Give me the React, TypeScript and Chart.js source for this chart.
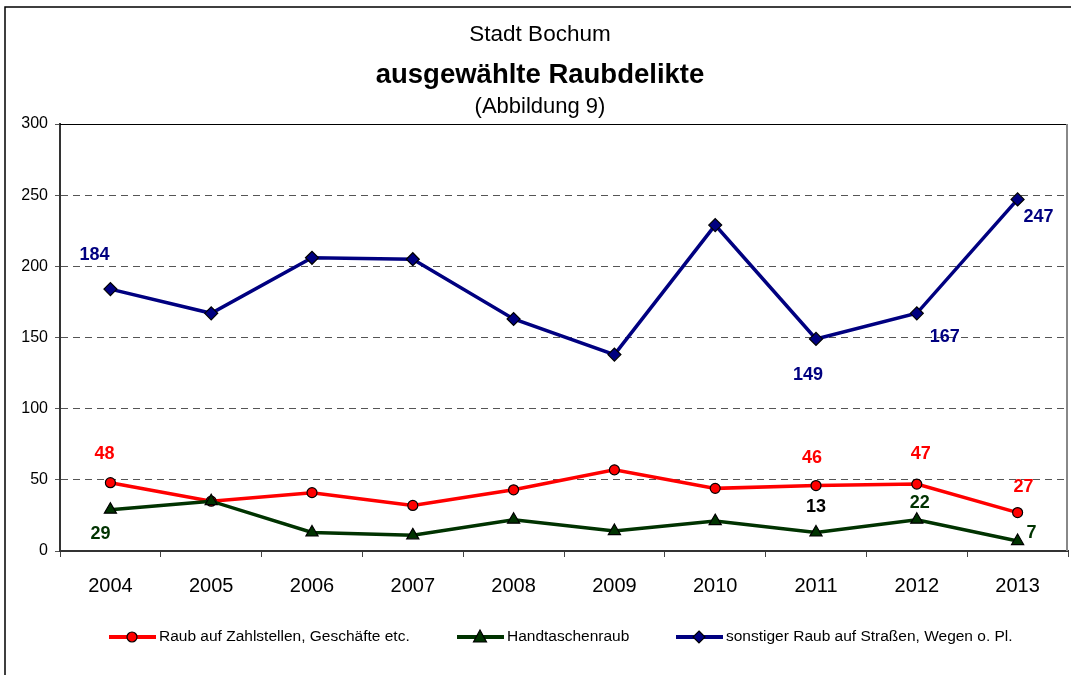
import React, { useEffect, useRef } from "react";
import { Chart, registerables } from "chart.js";

Chart.register(...registerables);

const years = ["2004", "2005", "2006", "2007", "2008", "2009", "2010", "2011", "2012", "2013"];
const raubZahlstellen = [48, 35, 41, 32, 43, 57, 44, 46, 47, 27];
const handtaschenraub = [29, 35, 13, 11, 22, 14, 21, 13, 22, 7];
const sonstigerRaub = [184, 167, 206, 205, 163, 138, 229, 149, 167, 247];
const yTickValues = [0, 50, 100, 150, 200, 250, 300];
const seriesNames = [
  "Raub auf Zahlstellen, Geschäfte etc.",
  "Handtaschenraub",
  "sonstiger Raub auf Straßen, Wegen o. Pl.",
];
const titleLines = ["Stadt Bochum", "ausgewählte Raubdelikte", "(Abbildung 9)"];

// which values get a data label: [dataset index, point index]
const labelledPoints = [
  [2, 0], [2, 7], [2, 8], [2, 9],
  [0, 0], [0, 7], [0, 8], [0, 9],
  [1, 0], [1, 7], [1, 8], [1, 9],
];

// styling / placement (not data)
const FONT = "'Liberation Sans', Arial, Helvetica, sans-serif";
const RED = "#FF0000";
const GREEN = "#003300";
const BLUE = "#000080";
const seriesColors = [RED, GREEN, BLUE];
const seriesMarkers = ["circle", "triangle", "rectRot"];
const labelOffsets: Record<string, [number, number, string]> = {
  "2-0": [-16, -34, BLUE],
  "2-7": [-8, 36, BLUE],
  "2-8": [28, 24, BLUE],
  "2-9": [21, 18, BLUE],
  "0-0": [-6, -29, RED],
  "0-7": [-4, -27, RED],
  "0-8": [4, -30, RED],
  "0-9": [6, -26, RED],
  "1-0": [-10, 24, GREEN],
  "1-7": [0, -25, "#000000"],
  "1-8": [3, -17, GREEN],
  "1-9": [14, -8, GREEN],
};
const legendX = [109, 457, 676];

const drawPlugin = {
  id: "customDraw",
  beforeDraw(chart: any) {
    const ctx = chart.ctx;
    ctx.save();
    ctx.fillStyle = "#ffffff";
    ctx.fillRect(0, 0, chart.width, chart.height);
    ctx.restore();
  },
  afterDraw(chart: any) {
    const ctx = chart.ctx;
    const area = chart.chartArea;
    ctx.save();
    // outer frame
    ctx.strokeStyle = "#000";
    ctx.lineWidth = 1.5;
    ctx.beginPath();
    ctx.moveTo(5, chart.height);
    ctx.lineTo(5, 7);
    ctx.lineTo(chart.width, 7);
    ctx.stroke();
    // plot border top & right
    ctx.lineWidth = 1;
    ctx.strokeStyle = "#000";
    ctx.beginPath();
    ctx.moveTo(area.left, area.top + 0.5);
    ctx.lineTo(area.right, area.top + 0.5);
    ctx.stroke();
    ctx.strokeStyle = "#888";
    ctx.lineWidth = 2;
    ctx.beginPath();
    ctx.moveTo(area.right - 1, area.top);
    ctx.lineTo(area.right - 1, area.bottom);
    ctx.stroke();

    // titles
    ctx.fillStyle = "#000";
    ctx.textAlign = "center";
    ctx.textBaseline = "middle";
    ctx.font = `22.5px ${FONT}`;
    ctx.fillText(titleLines[0], 540, 35);
    ctx.font = `bold 27.5px ${FONT}`;
    ctx.fillText(titleLines[1], 540, 75);
    ctx.font = `22px ${FONT}`;
    ctx.fillText(titleLines[2], 540, 107);

    // value labels
    ctx.font = `bold 18px ${FONT}`;
    labelledPoints.forEach(([ds, i]) => {
      const meta = chart.getDatasetMeta(ds);
      const pt = meta.data[i];
      const [dx, dy, color] = labelOffsets[`${ds}-${i}`];
      ctx.fillStyle = color;
      ctx.fillText(String(chart.data.datasets[ds].data[i]), pt.x + dx, pt.y + dy);
    });

    // legend
    const ly = 637;
    seriesNames.forEach((name, k) => {
      const x0 = legendX[k];
      ctx.strokeStyle = seriesColors[k];
      ctx.lineWidth = 4;
      ctx.beginPath();
      ctx.moveTo(x0, ly);
      ctx.lineTo(x0 + 47, ly);
      ctx.stroke();
      ctx.fillStyle = seriesColors[k];
      ctx.strokeStyle = "#000";
      ctx.lineWidth = 1.2;
      ctx.beginPath();
      const cx = x0 + 23;
      if (seriesMarkers[k] === "circle") {
        ctx.arc(cx, ly, 5, 0, Math.PI * 2);
      } else if (seriesMarkers[k] === "triangle") {
        ctx.moveTo(cx, ly - 7);
        ctx.lineTo(cx + 6.5, ly + 5);
        ctx.lineTo(cx - 6.5, ly + 5);
        ctx.closePath();
      } else {
        ctx.moveTo(cx, ly - 6);
        ctx.lineTo(cx + 6, ly);
        ctx.lineTo(cx, ly + 6);
        ctx.lineTo(cx - 6, ly);
        ctx.closePath();
      }
      ctx.fill();
      ctx.stroke();
      ctx.fillStyle = "#000";
      ctx.textAlign = "left";
      ctx.textBaseline = "middle";
      ctx.font = `15.5px ${FONT}`;
      ctx.fillText(name, x0 + 50, ly);
    });
    ctx.restore();
  },
};

export default function App() {
  const canvasRef = useRef<HTMLCanvasElement | null>(null);

  useEffect(() => {
    const canvas = canvasRef.current;
    if (!canvas) return;
    Chart.defaults.font.family = FONT;
    const seriesData = [raubZahlstellen, handtaschenraub, sonstigerRaub];
    const chart = new Chart(canvas, {
      type: "line",
      data: {
        labels: years,
        datasets: seriesData.map((d, k) => ({
          label: seriesNames[k],
          data: d,
          borderColor: seriesColors[k],
          backgroundColor: seriesColors[k],
          borderWidth: 3.5,
          tension: 0,
          pointStyle: seriesMarkers[k] as any,
          pointRadius: k === 0 ? 5 : k === 1 ? 7 : 6.5,
          pointBackgroundColor: seriesColors[k],
          pointBorderColor: "#000000",
          pointBorderWidth: 1.2,
          order: 3 - k,
        })),
      },
      options: {
        responsive: false,
        animation: false,
        events: [],
        layout: { autoPadding: false, padding: { top: 124, left: 0, right: 3, bottom: 0 } },
        plugins: {
          legend: { display: false },
          tooltip: { enabled: false },
          title: { display: false },
        },
        scales: {
          x: {
            type: "category",
            offset: true,
            grid: {
              offset: true,
              drawOnChartArea: false,
              drawTicks: true,
              tickLength: 6,
              color: "#444",
            },
            border: { display: true, color: "#333", width: 2 },
            ticks: { color: "#000", font: { size: 20, family: FONT }, padding: 17 },
            afterFit: (s: any) => {
              s.height = 124;
              s.paddingLeft = 0;
              s.paddingRight = 0;
            },
          },
          y: {
            min: 0,
            max: 300,
            afterBuildTicks: (s: any) => {
              s.ticks = yTickValues.map((v) => ({ value: v }));
            },
            grid: {
              color: "#555",
              lineWidth: 1,
              drawTicks: true,
              tickLength: 5,
              tickBorderDash: [],
            } as any,
            border: { display: true, color: "#333", width: 2, dash: [7, 5] } as any,
            ticks: { color: "#000", font: { size: 16, family: FONT }, padding: 7 },
            afterFit: (s: any) => {
              s.width = 60;
              s.paddingTop = 0;
              s.paddingBottom = 0;
            },
          },
        },
      },
      plugins: [drawPlugin],
    });
    return () => chart.destroy();
  }, []);

  return (
    <div style={{ position: "absolute", left: 0, top: 0, width: 1071, height: 675, background: "#fff" }}>
      <canvas ref={canvasRef} width={1071} height={675} style={{ display: "block", width: 1071, height: 675 }} />
    </div>
  );
}
